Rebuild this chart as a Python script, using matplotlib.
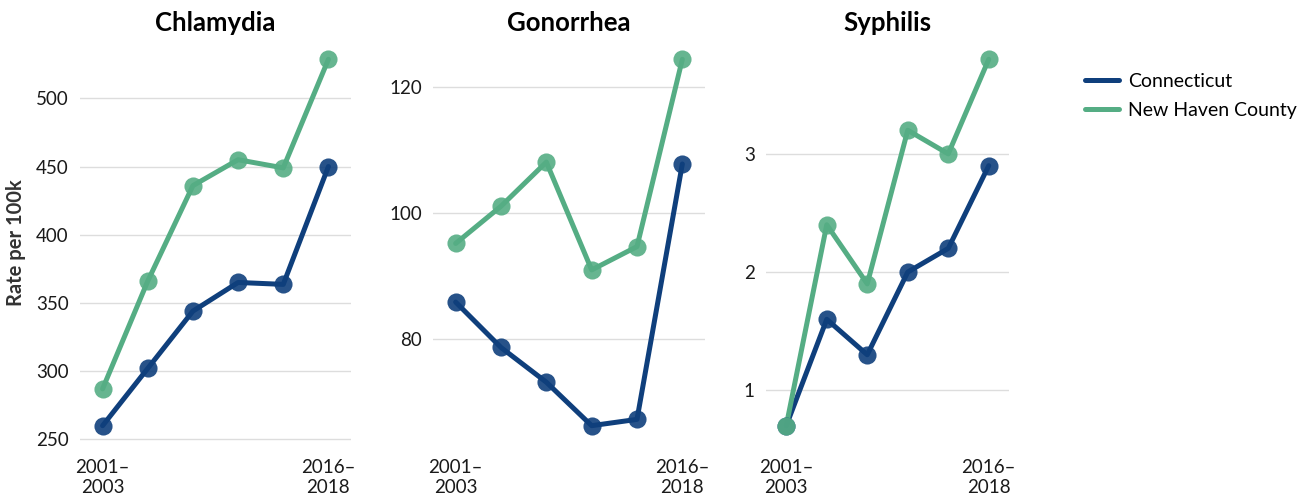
import matplotlib.pyplot as plt

plt.rcParams['font.family'] = ['Lato', 'DejaVu Sans']

periods = ['2001–\n2003', '', '', '', '', '2016–\n2018']
diseases = ['Chlamydia', 'Gonorrhea', 'Syphilis']

ct_chlamydia = [260, 302, 344, 365, 363.6, 450]
nhc_chlamydia = [287, 366, 436, 455, 449, 528.6]
ct_gonorrhea = [85.9, 78.7, 73.2, 66.3, 67.3, 107.8]
nhc_gonorrhea = [95.2, 101.1, 108.1, 91.0, 94.7, 124.4]
ct_syphilis = [0.7, 1.6, 1.3, 2.0, 2.2, 2.9]
nhc_syphilis = [0.7, 2.4, 1.9, 3.2, 3.0, 3.8]

yticks = [[250, 300, 350, 400, 450, 500], [80, 100, 120], [1, 2, 3]]

CT_COL = '#0f3f7c'
NHC_COL = '#55ad84'

W, H = 1307, 497
fig = plt.figure(figsize=(W / 100, H / 100), dpi=100)

# panel positions in pixels (left, right)
panels = [(80, 351), (433, 705), (766, 1009)]
top, bottom = 41, 444

series = [(ct_chlamydia, nhc_chlamydia), (ct_gonorrhea, nhc_gonorrhea), (ct_syphilis, nhc_syphilis)]

axes = []
for i, (l, r) in enumerate(panels):
    ax = fig.add_axes([l / W, 1 - bottom / H, (r - l) / W, (bottom - top) / H])
    ct, nhc = series[i]
    x = list(range(len(periods)))
    for vals, col, name in [(ct, CT_COL, 'Connecticut'), (nhc, NHC_COL, 'New Haven County')]:
        ax.plot(x, vals, color=col, lw=3.6, label=name, zorder=3, solid_capstyle='round')
        ax.scatter(x, vals, s=170, color=col, alpha=0.9, zorder=4, linewidths=0)
    lo = min(min(ct), min(nhc))
    hi = max(max(ct), max(nhc))
    pad = (hi - lo) * 0.05
    ax.set_ylim(lo - pad, hi + pad)
    ax.set_xlim(-0.5, 5.5)
    ax.set_yticks(yticks[i])
    ax.set_xticks([0, 5])
    ax.set_xticklabels([periods[0], periods[5]])
    ax.grid(axis='y', color='#dddddd', lw=1)
    ax.set_axisbelow(True)
    for s in ax.spines.values():
        s.set_visible(False)
    ax.tick_params(length=0, labelsize=13.5, colors='#1a1a1a', pad=8)
    ax.tick_params(axis='x', pad=11)
    ax.set_title(diseases[i], fontsize=18.5, fontweight='bold', pad=7)
    axes.append(ax)

axes[0].set_ylabel('Rate per 100k', fontsize=14.5, fontweight='bold', color='#333333', labelpad=7)

handles, labels = axes[0].get_legend_handles_labels()
fig.legend(handles, labels, loc='upper left', bbox_to_anchor=(1067 / W, 1 - 55 / H),
           frameon=False, fontsize=14, handlelength=1.75, handletextpad=0.5,
           labelspacing=0.62)

plt.savefig('out.png', dpi=100)
